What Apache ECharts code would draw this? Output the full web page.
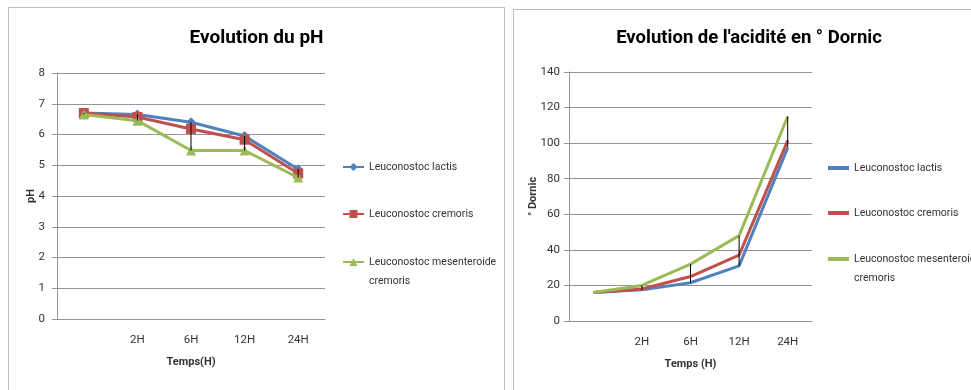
<!DOCTYPE html>
<html><head><meta charset="utf-8">
<script src="https://cdn.jsdelivr.net/npm/echarts@6/dist/echarts.min.js"></script>
<style>
html,body{margin:0;padding:0;background:#fff;width:971px;height:390px;overflow:hidden;}
.box{position:absolute;border:1px solid #bfbfbf;background:#fff;}
#c1{left:8px;top:7px;width:495px;height:400px;}
#c2{left:513px;top:9px;width:470px;height:400px;}
</style></head>
<body>
<div id="c1" class="box"></div>
<div id="c2" class="box"></div>
<script>
const categories = ['', '2H', '6H', '12H', '24H'];
const seriesNames = ['Leuconostoc lactis', 'Leuconostoc cremoris', 'Leuconostoc mesenteroide cremoris'];
const phLactis = [6.7, 6.65, 6.4, 5.95, 4.87];
const phCremoris = [6.7, 6.57, 6.18, 5.83, 4.73];
const phMesenteroide = [6.65, 6.45, 5.48, 5.48, 4.6];
const dornicLactis = [16, 17.5, 21.5, 31, 97.5];
const dornicCremoris = [16, 18, 25, 37, 101.5];
const dornicMesenteroide = [16, 20, 32, 48, 115];
const phTicks = [0, 8, 1];      // min, max, interval
const dornicTicks = [0, 140, 20];

const colors = ['#4F81BD', '#C0504D', '#9BBB59'];
const FONT = "Roboto, 'Liberation Sans', sans-serif";
const GRID = '#959595';
const TXT = '#333333';

function hiLo(arrs) {
  return categories.map((c, i) => {
    const vals = arrs.map(a => a[i]);
    return [i, Math.max(...vals), Math.min(...vals)];
  });
}

function legends(left, tops, lineOnly) {
  return seriesNames.map((n, k) => {
    const multi = k === 2;
    const lg = {
      data: [n], orient: 'vertical', left: left, top: multi ? tops[k] - 28.5 : tops[k] - 7,
      itemWidth: 21, itemHeight: lineOnly ? 4 : 10, padding: 0, selectedMode: false,
      formatter: multi ? ' \nLeuconostoc mesenteroide\ncremoris' : '{name}',
      textStyle: { fontFamily: FONT, fontSize: 10.5, color: TXT, lineHeight: multi ? 19 : 14 }
    };
    if (lineOnly) lg.icon = 'rect';
    return lg;
  });
}

function buildOption(cfg) {
  const lines = cfg.data.map((d, k) => ({
    name: seriesNames[k], type: 'line', data: d,
    lineStyle: { color: colors[k], width: 3 },
    itemStyle: { color: colors[k] },
    symbol: cfg.symbols ? cfg.symbols[k] : 'none',
    symbolSize: cfg.symbols ? cfg.symbolSizes[k] : 0,
    showSymbol: !!cfg.symbols,
    animation: false, z: 2 + k
  }));
  lines.push({
    type: 'custom', name: 'hilo', data: hiLo(cfg.data), z: 10, animation: false,
    encode: { x: 0, y: [1, 2] },
    renderItem: function (params, api) {
      const p1 = api.coord([api.value(0), api.value(1)]);
      const p2 = api.coord([api.value(0), api.value(2)]);
      return { type: 'line', shape: { x1: p1[0], y1: p1[1], x2: p2[0], y2: p2[1] },
        style: { stroke: '#000', lineWidth: 1 } };
    }
  });
  return {
    animation: false,
    title: { text: cfg.title, left: 'center', top: cfg.titleTop, padding: 0,
      textStyle: { fontFamily: FONT, fontSize: cfg.titleSize, fontWeight: 'bold', color: '#000' } },
    legend: legends(cfg.legendLeft, cfg.legendTops, !cfg.symbols),
    grid: { left: cfg.grid[0], top: cfg.grid[1], width: cfg.grid[2], height: cfg.grid[3] },
    xAxis: {
      type: 'category', data: categories, boundaryGap: true,
      name: cfg.xName, nameLocation: 'middle', nameGap: cfg.xNameGap, nameMoveOverlap: false,
      nameTextStyle: { fontFamily: FONT, fontSize: 11, fontWeight: 'bold', color: TXT },
      axisLine: { lineStyle: { color: GRID, width: 1 } },
      axisTick: { show: false },
      axisLabel: { fontFamily: FONT, fontSize: 11.5, color: TXT, margin: 15 }
    },
    yAxis: {
      type: 'value', min: cfg.ticks[0], max: cfg.ticks[1], interval: cfg.ticks[2],
      name: cfg.yName, nameLocation: 'middle', nameGap: cfg.yNameGap, nameMoveOverlap: false,
      nameTextStyle: { fontFamily: FONT, fontSize: 11, fontWeight: 'bold', color: TXT },
      axisLine: { show: true, lineStyle: { color: GRID, width: 1 } },
      axisTick: { show: true, inside: false, length: 5, lineStyle: { color: GRID } },
      splitLine: { lineStyle: { color: GRID, width: 1 } },
      axisLabel: { fontFamily: FONT, fontSize: 11.5, color: TXT, margin: cfg.yLabelMargin }
    },
    series: lines
  };
}

const c1 = echarts.init(document.getElementById('c1'), null, { renderer: 'canvas' });
c1.setOption(buildOption({
  title: 'Evolution du pH', titleTop: 21, titleSize: 19,
  data: [phLactis, phCremoris, phMesenteroide],
  symbols: ['diamond', 'rect', 'triangle'], symbolSizes: [10, 10, 10],
  legendLeft: 333, legendTops: [159, 206, 254],
  grid: [48, 65, 268, 246], ticks: phTicks,
  xName: 'Temps(H)', xNameGap: 38, yName: 'pH', yNameGap: 20, yLabelMargin: 12
}));

const c2 = echarts.init(document.getElementById('c2'), null, { renderer: 'canvas' });
c2.setOption(buildOption({
  title: "Evolution de l'acidité en ° Dornic", titleTop: 19, titleSize: 18.5,
  data: [dornicLactis, dornicCremoris, dornicMesenteroide],
  symbols: null,
  legendLeft: 314, legendTops: [158, 203, 249],
  grid: [55, 62, 243, 249], ticks: dornicTicks,
  xName: 'Temps (H)', xNameGap: 38, yName: '° Dornic', yNameGap: 30, yLabelMargin: 9
}));
</script>
</body></html>
